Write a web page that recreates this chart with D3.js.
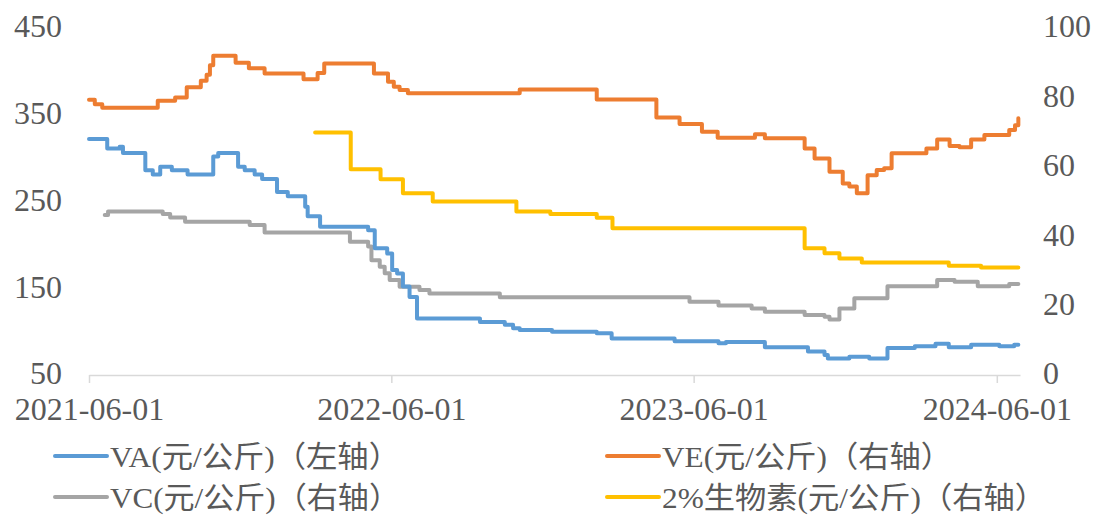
<!DOCTYPE html>
<html>
<head>
<meta charset="utf-8">
<script src="https://cdn.jsdelivr.net/npm/d3@7/dist/d3.min.js"></script>
<style>
  html, body { margin: 0; padding: 0; background: #ffffff; }
  svg { display: block; }
</style>
</head>
<body>
<svg id="chart" width="1094" height="515"></svg>
<script>
// ---------- data ----------
const xTickLabels = ["2021-06-01", "2022-06-01", "2023-06-01", "2024-06-01"];
const leftTicks = [50, 150, 250, 350, 450];
const rightTicks = [0, 20, 40, 60, 80, 100];
const seriesNames = ["VA(元/公斤)（左轴）", "VE(元/公斤)（右轴）", "VC(元/公斤)（右轴）", "2%生物素(元/公斤)（右轴）"];

// VA, left axis
const vaData = [
  ["2021-06-01", 322], ["2021-06-23", 311], ["2021-07-08", 313], ["2021-07-12", 306],
  ["2021-08-08", 286], ["2021-08-17", 281], ["2021-08-26", 290], ["2021-09-09", 286],
  ["2021-09-28", 281], ["2021-10-29", 302], ["2021-11-04", 306], ["2021-11-28", 290],
  ["2021-12-06", 286], ["2021-12-18", 281], ["2021-12-27", 276], ["2022-01-14", 261],
  ["2022-01-27", 256], ["2022-02-17", 244], ["2022-02-20", 233], ["2022-03-07", 221],
  ["2022-05-04", 217], ["2022-05-12", 196], ["2022-05-27", 190], ["2022-06-02", 171],
  ["2022-06-08", 167], ["2022-06-15", 152], ["2022-06-23", 140], ["2022-07-02", 115],
  ["2022-09-16", 111], ["2022-10-16", 108], ["2022-10-26", 104], ["2022-11-03", 102],
  ["2022-12-12", 100], ["2023-02-04", 98], ["2023-02-22", 92], ["2023-05-09", 89],
  ["2023-07-01", 86.5], ["2023-07-10", 88], ["2023-08-26", 82], ["2023-10-17", 77],
  ["2023-11-06", 73], ["2023-11-10", 69], ["2023-12-06", 71], ["2023-12-30", 69],
  ["2024-01-21", 81], ["2024-02-23", 83], ["2024-03-19", 86], ["2024-04-04", 82],
  ["2024-05-01", 85], ["2024-06-04", 83], ["2024-06-22", 85], ["2024-06-27", 85]
];

// VE, right axis
const veData = [
  ["2021-06-01", 79.3], ["2021-06-08", 78.0], ["2021-06-17", 77.0], ["2021-08-23", 79.0],
  ["2021-09-13", 80.0], ["2021-09-27", 82.9], ["2021-10-14", 84.8], ["2021-10-21", 86.5],
  ["2021-10-25", 89.3], ["2021-10-29", 92.0], ["2021-11-25", 90.0], ["2021-12-11", 88.4],
  ["2021-12-30", 86.9], ["2022-02-15", 85.2], ["2022-03-04", 87.0], ["2022-03-12", 89.8],
  ["2022-05-11", 86.9], ["2022-05-28", 84.5], ["2022-06-04", 83.1], ["2022-06-11", 82.1],
  ["2022-06-21", 81.2], ["2022-11-03", 82.3], ["2023-02-04", 79.4], ["2023-04-17", 74.2],
  ["2023-05-15", 72.3], ["2023-06-11", 70.1], ["2023-06-30", 68.4], ["2023-08-14", 69.4],
  ["2023-08-26", 68.2], ["2023-10-13", 65.3], ["2023-10-25", 62.4], ["2023-11-12", 58.6],
  ["2023-11-28", 55.2], ["2023-12-06", 54.3], ["2023-12-15", 52.4], ["2023-12-28", 57.6],
  ["2024-01-08", 59.1], ["2024-01-17", 59.6], ["2024-01-26", 63.9], ["2024-03-08", 65.3],
  ["2024-03-21", 67.9], ["2024-04-05", 66.0], ["2024-04-17", 65.6], ["2024-05-01", 67.9],
  ["2024-05-17", 69.2], ["2024-06-16", 70.6], ["2024-06-23", 72.0], ["2024-06-27", 74.0]
];

// VC, right axis
const vcData = [
  ["2021-06-20", 46.1], ["2021-06-24", 47.1], ["2021-08-29", 46.4], ["2021-09-07", 45.4],
  ["2021-09-25", 44.2], ["2021-12-12", 43.2], ["2021-12-30", 41.1], ["2022-04-12", 38.4],
  ["2022-05-04", 37.0], ["2022-05-08", 33.1], ["2022-05-18", 31.2], ["2022-05-24", 29.3],
  ["2022-05-30", 27.4], ["2022-06-11", 25.4], ["2022-07-05", 24.5], ["2022-07-17", 23.5],
  ["2022-10-10", 22.4], ["2023-05-27", 21.1], ["2023-07-01", 20.0], ["2023-08-10", 19.2],
  ["2023-08-26", 18.2], ["2023-10-13", 17.3], ["2023-11-06", 16.8], ["2023-11-12", 16.0],
  ["2023-11-24", 19.2], ["2023-12-12", 22.1], ["2024-01-21", 25.6], ["2024-03-21", 27.4],
  ["2024-04-11", 26.9], ["2024-05-09", 25.6], ["2024-06-16", 26.2], ["2024-06-27", 26.2]
];

// 2% biotin, right axis
const biotinData = [
  ["2022-03-01", 69.9], ["2022-04-13", 59.3], ["2022-05-19", 56.4], ["2022-06-15", 52.4],
  ["2022-07-21", 50.0], ["2022-10-30", 47.1], ["2022-12-10", 46.4], ["2023-02-04", 45.3],
  ["2023-02-23", 42.3], ["2023-10-13", 36.5], ["2023-11-06", 35.1], ["2023-11-24", 33.6],
  ["2023-12-21", 32.4], ["2024-04-04", 31.5], ["2024-05-13", 31.0], ["2024-06-27", 31.0]
];

const colors = ["#5B9BD5", "#ED7D31", "#A5A5A5", "#FFC000"];

// ---------- drawing ----------
const parse = d3.timeParse("%Y-%m-%d");
const svg = d3.select("#chart");
const numFont = "'Liberation Serif', 'Times New Roman', serif";
const textColor = "#595959";

const x = d3.scaleTime()
  .domain([parse("2021-06-01"), parse("2024-06-29")])
  .range([89, 1020]);
const yL = d3.scaleLinear().domain([50, 450]).range([375, 28]);
const yR = d3.scaleLinear().domain([0, 100]).range([375, 28]);

// x axis
const xAxis = d3.axisBottom(x)
  .tickValues(xTickLabels.map(parse))
  .tickFormat(d3.timeFormat("%Y-%m-%d"))
  .tickSize(8)
  .tickSizeOuter(0)
  .tickPadding(14);
const gx = svg.append("g").attr("transform", "translate(0,375)").call(xAxis);
gx.select(".domain").attr("stroke", "#d9d9d9").attr("stroke-width", 1.5);
gx.selectAll(".tick line").attr("stroke", "#d9d9d9").attr("stroke-width", 1.5);
gx.selectAll(".tick text")
  .attr("font-family", numFont).attr("font-size", 32).attr("fill", textColor);

// left axis
const gl = svg.append("g").attr("transform", "translate(89,0)")
  .call(d3.axisLeft(yL).tickValues(leftTicks).tickSize(0).tickPadding(27));
gl.select(".domain").remove();
gl.selectAll(".tick text")
  .attr("font-family", numFont).attr("font-size", 32).attr("fill", textColor)
  .attr("dy", "0.28em");

// right axis
const gr = svg.append("g").attr("transform", "translate(1020,0)")
  .call(d3.axisRight(yR).tickValues(rightTicks).tickSize(0).tickPadding(23));
gr.select(".domain").remove();
gr.selectAll(".tick text")
  .attr("font-family", numFont).attr("font-size", 32).attr("fill", textColor)
  .attr("dy", "0.28em");

// lines
const lineL = d3.line().x(d => x(parse(d[0]))).y(d => yL(d[1])).curve(d3.curveStepAfter);
const lineR = d3.line().x(d => x(parse(d[0]))).y(d => yR(d[1])).curve(d3.curveStepAfter);

const series = [
  { data: vcData, line: lineR, color: colors[2] },
  { data: biotinData, line: lineR, color: colors[3] },
  { data: veData, line: lineR, color: colors[1] },
  { data: vaData, line: lineL, color: colors[0] }
];
series.forEach(s => {
  svg.append("path")
    .datum(s.data)
    .attr("d", s.line)
    .attr("fill", "none")
    .attr("stroke", s.color)
    .attr("stroke-width", 4)
    .attr("stroke-linejoin", "round")
    .attr("stroke-linecap", "round");
});

// legend
const legendPos = [
  { x: 55, y: 456, w: 290 },
  { x: 607, y: 456, w: 290 },
  { x: 55, y: 497, w: 290 },
  { x: 607, y: 497, w: 384 }
];
seriesNames.forEach((name, i) => {
  const p = legendPos[i];
  svg.append("line")
    .attr("x1", p.x).attr("x2", p.x + 52)
    .attr("y1", p.y).attr("y2", p.y)
    .attr("stroke", colors[i]).attr("stroke-width", 4)
    .attr("stroke-linecap", "round");
  svg.append("text")
    .attr("x", p.x + 55).attr("y", p.y)
    .attr("dominant-baseline", "central")
    .attr("font-family", "'Liberation Serif', 'Noto Sans CJK SC', serif")
    .attr("font-size", 30)
    .attr("fill", textColor)
    .attr("textLength", p.w)
    .attr("lengthAdjust", "spacingAndGlyphs")
    .text(name);
});
</script>
</body>
</html>
